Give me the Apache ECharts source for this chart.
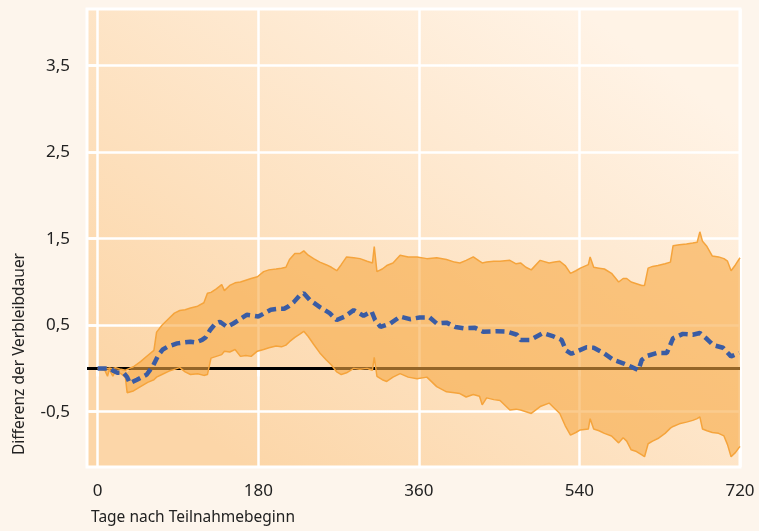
<!DOCTYPE html>
<html>
<head>
<meta charset="utf-8">
<script src="https://cdn.jsdelivr.net/npm/echarts@6/dist/echarts.min.js"></script>
<style>
  html, body { margin: 0; padding: 0; background: #fdf5ec; }
  #chart { width: 759px; height: 531px; }
</style>
</head>
<body>
<div id="chart"></div>
<script>
// Tage, obere und untere Grenze des Konfidenzbandes
const bandDays = [0, 8, 11, 13, 17, 20, 26, 31, 33, 40, 48, 56, 63, 66, 72, 80, 86, 92, 98, 104, 112, 119, 123, 127, 133, 139, 142, 148, 154, 160, 166, 172, 179, 186, 192, 200, 206, 211, 215, 221, 227, 231, 236, 242, 249, 256, 262, 268, 273, 279, 287, 294, 302, 308, 310, 313, 319, 324, 331, 339, 348, 358, 369, 380, 391, 400, 406, 413, 421, 428, 431, 436, 444, 451, 462, 469, 474, 480, 486, 496, 506, 512, 518, 524, 530, 536, 541, 550, 552, 556, 562, 568, 576, 584, 589, 593, 598, 604, 610, 613, 617, 622, 628, 636, 642, 645, 652, 660, 667, 672, 675, 678, 683, 689, 696, 702, 706, 710, 715, 720];
const bandHigh = [0, 0.01, 0, 0.02, 0, 0.01, -0.01, -0.02, -0.04, 0.02, 0.08, 0.15, 0.21, 0.42, 0.5, 0.58, 0.64, 0.67, 0.68, 0.7, 0.72, 0.76, 0.87, 0.88, 0.92, 0.97, 0.9, 0.96, 0.99, 1.0, 1.02, 1.04, 1.06, 1.12, 1.14, 1.15, 1.16, 1.17, 1.26, 1.33, 1.33, 1.36, 1.31, 1.27, 1.23, 1.2, 1.17, 1.13, 1.2, 1.29, 1.28, 1.27, 1.24, 1.22, 1.41, 1.12, 1.15, 1.19, 1.22, 1.31, 1.29, 1.29, 1.27, 1.28, 1.26, 1.23, 1.22, 1.25, 1.29, 1.24, 1.22, 1.23, 1.24, 1.24, 1.25, 1.21, 1.22, 1.17, 1.14, 1.25, 1.22, 1.23, 1.24, 1.19, 1.1, 1.13, 1.16, 1.2, 1.29, 1.17, 1.16, 1.15, 1.1, 1.0, 1.04, 1.04, 1.0, 0.98, 0.96, 0.96, 1.16, 1.18, 1.19, 1.21, 1.23, 1.42, 1.43, 1.44, 1.45, 1.46, 1.58, 1.47, 1.41, 1.3, 1.29, 1.27, 1.24, 1.13, 1.2, 1.28];
const bandLow = [0, -0.02, -0.09, -0.01, -0.09, -0.03, -0.06, -0.1, -0.28, -0.26, -0.21, -0.16, -0.13, -0.1, -0.07, -0.03, -0.01, 0.01, -0.04, -0.07, -0.06, -0.08, -0.07, 0.12, 0.14, 0.16, 0.2, 0.19, 0.22, 0.14, 0.15, 0.14, 0.2, 0.22, 0.24, 0.26, 0.25, 0.27, 0.31, 0.36, 0.4, 0.43, 0.37, 0.28, 0.18, 0.1, 0.04, -0.04, -0.07, -0.05, 0, -0.01, 0, -0.02, 0.13, -0.09, -0.13, -0.15, -0.1, -0.06, -0.1, -0.12, -0.1, -0.21, -0.27, -0.28, -0.29, -0.33, -0.3, -0.32, -0.42, -0.34, -0.36, -0.37, -0.48, -0.47, -0.48, -0.5, -0.52, -0.44, -0.4, -0.46, -0.52, -0.66, -0.77, -0.74, -0.71, -0.7, -0.58, -0.7, -0.72, -0.75, -0.78, -0.86, -0.8, -0.84, -0.94, -0.96, -1.0, -1.02, -0.87, -0.84, -0.81, -0.75, -0.69, -0.67, -0.64, -0.62, -0.6, -0.58, -0.56, -0.7, -0.72, -0.74, -0.75, -0.78, -0.88, -1.02, -0.97, -0.9];

// geschaetzte Differenz (Mittellinie)
const midDays = [0, 14, 18, 22, 29, 33, 36, 44, 55, 62, 68, 73, 78, 89, 96, 104, 110, 117, 121, 126, 132, 137, 145, 152, 158, 167, 174, 180, 187, 194, 202, 209, 214, 220, 226, 231, 238, 249, 260, 268, 277, 287, 298, 307, 311, 317, 328, 339, 350, 361, 372, 380, 391, 401, 410, 423, 432, 447, 459, 470, 474, 485, 492, 499, 511, 520, 525, 531, 538, 548, 556, 567, 578, 589, 598, 606, 610, 616, 627, 638, 645, 656, 667, 675, 683, 690, 701, 710, 719];
const midVals = [0, 0, -0.03, -0.05, -0.05, -0.1, -0.17, -0.13, -0.07, 0.03, 0.155, 0.22, 0.25, 0.29, 0.3, 0.31, 0.3, 0.33, 0.36, 0.445, 0.52, 0.54, 0.48, 0.52, 0.56, 0.62, 0.61, 0.6, 0.64, 0.68, 0.69, 0.69, 0.72, 0.77, 0.84, 0.87, 0.79, 0.71, 0.64, 0.56, 0.6, 0.675, 0.61, 0.66, 0.56, 0.48, 0.52, 0.6, 0.57, 0.59, 0.59, 0.52, 0.53, 0.48, 0.465, 0.47, 0.425, 0.43, 0.425, 0.39, 0.33, 0.33, 0.37, 0.41, 0.37, 0.33, 0.21, 0.17, 0.2, 0.245, 0.24, 0.18, 0.1, 0.06, 0.02, -0.02, 0.1, 0.145, 0.18, 0.18, 0.35, 0.4, 0.39, 0.41, 0.34, 0.27, 0.24, 0.14, 0.18];

const xTicks = [0, 180, 360, 540, 720];
const yTicks = [-0.5, 0.5, 1.5, 2.5, 3.5];

const font = "Noto Sans";
const bandLine = { color: "#f5a43c", width: 1.5 };

// Band als Polygon: obere Grenze hin, untere Grenze zurueck
const renderBand = (params, api) => {
    if (params.dataIndex !== 0) return null;
    const pts = [];
    bandDays.forEach((d, i) => pts.push(api.coord([d, bandHigh[i]])));
    for (let i = bandDays.length - 1; i >= 0; i--) pts.push(api.coord([bandDays[i], bandLow[i]]));
    return {
        type: "polygon",
        shape: { points: pts },
        style: { fill: "rgba(246, 168, 66, 0.6)" },
        silent: true
    };
};

const initChart = () => {
    const myChart = echarts.init(document.getElementById("chart"));
    const option = {
        backgroundColor: "#fdf5ec",
        animation: false,
        grid: {
            left: 87, right: 19, top: 9, bottom: 64,
            show: true,
            outerBoundsMode: "none",
            borderColor: "#ffffff",
            borderWidth: 3,
            backgroundColor: new echarts.graphic.LinearGradient(0.25, 1, 0.75, 0, [
                { offset: 0, color: "#fcd6a8" },
                { offset: 1, color: "#fff3e6" }
            ])
        },
        xAxis: {
            type: "value",
            min: -12,
            max: 720,
            axisLine: { show: false },
            axisTick: { show: true, length: 8, lineStyle: { color: "#ffffff", width: 2.5 }, customValues: xTicks },
            axisLabel: { customValues: xTicks, color: "#222", fontFamily: font, fontSize: 17, margin: 16 },
            splitLine: { show: true, lineStyle: { color: "#ffffff", width: 2.5 } }
        },
        yAxis: {
            type: "value",
            min: -1.139,
            max: 4.156,
            axisLine: { show: false },
            axisTick: { show: true, length: 9, lineStyle: { color: "#ffffff", width: 2.5 }, customValues: yTicks },
            axisLabel: {
                customValues: yTicks, color: "#222", fontFamily: font, fontSize: 17, margin: 17,
                formatter: v => String(v).replace(".", ",")
            },
            splitLine: { show: true, lineStyle: { color: "#ffffff", width: 2.5 } }
        },
        graphic: [
            {
                type: "text", x: 20, y: 354, rotation: Math.PI / 2,
                style: { text: "Differenz der Verbleibdauer", fill: "#222", font: "15.5px 'Noto Sans'", align: "center", verticalAlign: "middle" }
            },
            {
                type: "text", x: 91, y: 518,
                style: { text: "Tage nach Teilnahmebeginn", fill: "#222", font: "15.5px 'Noto Sans'", align: "left", verticalAlign: "middle" }
            }
        ],
        series: [
            {
                type: "line",
                z: 1,
                data: [[-12, 0], [720, 0]],
                symbol: "none",
                silent: true,
                lineStyle: { color: "#000000", width: 3 }
            },
            {
                type: "custom",
                z: 3,
                renderItem: renderBand,
                data: bandDays.map((d, i) => [d, bandLow[i], bandHigh[i]]),
                encode: { x: 0, y: [1, 2] },
                silent: true
            },
            {
                type: "line",
                z: 4,
                data: bandDays.map((d, i) => [d, bandLow[i]]),
                symbol: "none",
                silent: true,
                lineStyle: bandLine
            },
            {
                type: "line",
                z: 4,
                data: bandDays.map((d, i) => [d, bandHigh[i]]),
                symbol: "none",
                silent: true,
                lineStyle: bandLine
            },
            {
                type: "line",
                z: 5,
                data: midDays.map((d, i) => [d, midVals[i]]),
                symbol: "none",
                silent: true,
                lineStyle: { color: "#3a5ca4", width: 4.5, type: [9, 5], cap: "butt" }
            }
        ]
    };
    myChart.setOption(option);
};

window.addEventListener("load", () => {
    initChart();
});
</script>
</body>
</html>
